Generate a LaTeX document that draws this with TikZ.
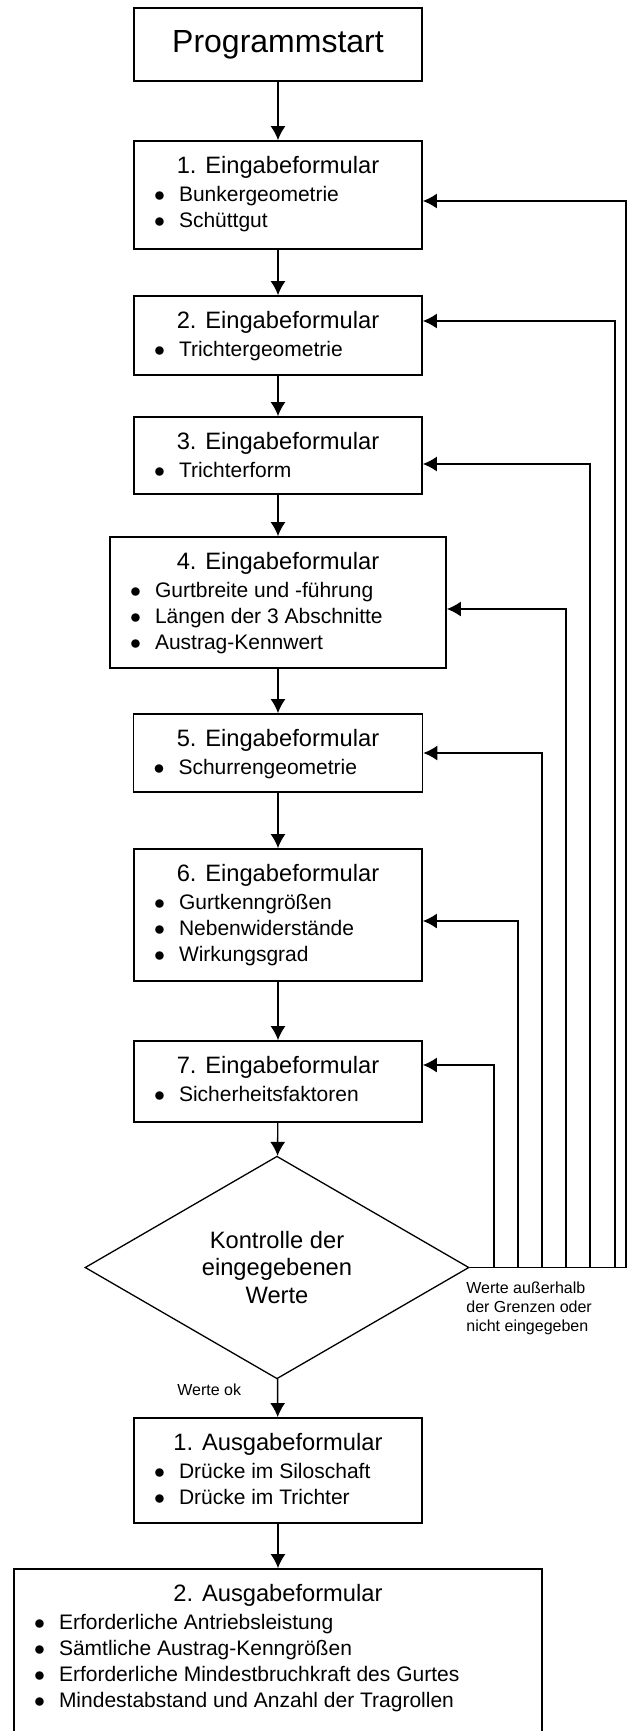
\documentclass[tikz,border=0pt]{standalone}
\usepackage{fontspec}
\setmainfont{Liberation Sans}
\usetikzlibrary{arrows.meta,shapes.geometric}

\newcommand{\formtext}[4]{%
  \parbox[c][#2][t]{#1}{%
    {\centering\fontsize{11.85}{13.75}\selectfont\rule{0pt}{16pt}#3\par}%
    \fontsize{10.5}{13}\selectfont\vspace{1pt}#4}}
\newcommand{\punkt}[1]{\par\hspace*{10pt}\makebox[12.5pt][l]{$\bullet$}#1}

\begin{document}
\begin{tikzpicture}[x=0.5pt,y=-0.5pt]
                    \tikzstyle{formular}=[rectangle,draw=black,line width=0.9pt,inner sep=0pt]
                    \tikzstyle{pfeil}=[-{Latex[length=7pt,width=7.5pt]},line width=0.7pt]
                    \tikzstyle{rueck}=[-{Latex[length=7pt,width=7.5pt]},line width=0.6pt]
                    \useasboundingbox (0,0) rectangle (627,1731);

                    \node (start) at (278,44.5) [formular,minimum width=144pt,minimum height=36.5pt,font=\fontsize{16}{19}\selectfont] {Programmstart};
                    \node (e1) at (278,195) [formular] {\formtext{144pt}{54pt}{1. Eingabeformular}{\punkt{Bunkergeometrie}\punkt{Schüttgut}}};
                    \node (e2) at (278,335.5) [formular] {\formtext{144pt}{39.5pt}{2. Eingabeformular}{\punkt{Trichtergeometrie}}};
                    \node (e3) at (278,455.5) [formular] {\formtext{144pt}{38.5pt}{3. Eingabeformular}{\punkt{Trichterform}}};
                    \node (e4) at (278,602.5) [formular] {\formtext{168pt}{65.5pt}{4. Eingabeformular}{\punkt{Gurtbreite und -führung}\punkt{Längen der 3 Abschnitte}\punkt{Austrag-Kennwert}}};
                    \node (e5) at (278,753) [formular] {\formtext{144.5pt}{39pt}{5. Eingabeformular}{\punkt{Schurrengeometrie}}};
                    \node (e6) at (278,915) [formular] {\formtext{144pt}{66pt}{6. Eingabeformular}{\punkt{Gurtkenngrößen}\punkt{Nebenwiderstände}\punkt{Wirkungsgrad}}};
                    \node (e7) at (278,1081.5) [formular] {\formtext{144pt}{40.5pt}{7. Eingabeformular}{\punkt{Sicherheitsfaktoren}}};
                    \node (kontrolle) at (277,1267.5) [diamond,draw=black,line width=0.65pt,inner sep=0pt,minimum width=192pt,minimum height=90.5pt,align=center,font=\fontsize{11.85}{13.75}\selectfont] {Kontrolle der\\eingegebenen\\Werte};
                    \node (a1) at (278,1470.5) [formular] {\formtext{144pt}{52.5pt}{1. Ausgabeformular}{\punkt{Drücke im Siloschaft}\punkt{Drücke im Trichter}}};
                    \node (a2) at (278,1657) [formular] {\formtext{264pt}{88pt}{2. Ausgabeformular}{\punkt{Erforderliche Antriebsleistung}\punkt{Sämtliche Austrag-Kenngrößen}\punkt{Erforderliche Mindestbruchkraft des Gurtes}\punkt{Mindestabstand und Anzahl der Tragrollen}}};

                    \node (aussen) at (466,1281) [anchor=north west,align=left,inner sep=0pt,font=\fontsize{8}{9.5}\selectfont] {Werte außerhalb\\der Grenzen oder\\nicht eingegeben};
                    \node (ok) at (177,1395) [anchor=base west,inner sep=0pt,font=\fontsize{8}{9.5}\selectfont] {Werte ok};

                    \coordinate (r1) at (626,201);
                    \coordinate (r2) at (615,321);
                    \coordinate (r3) at (590,464);
                    \coordinate (r4) at (566,609);
                    \coordinate (r5) at (542,753);
                    \coordinate (r6) at (518,921);
                    \coordinate (r7) at (494,1065);

                    \draw [pfeil] (start) -- (e1);
                    \draw [pfeil] (e1) -- (e2);
                    \draw [pfeil] (e2) -- (e3);
                    \draw [pfeil] (e3) -- (e4);
                    \draw [pfeil] (e4) -- (e5);
                    \draw [pfeil] (e5) -- (e6);
                    \draw [pfeil] (e6) -- (e7);
                    \draw [pfeil] (e7) -- (kontrolle);
                    \draw [pfeil] (kontrolle) -- (a1);
                    \draw [pfeil] (a1) -- (a2);

                    \draw [rueck] (kontrolle.east) -| (r1) -- (r1 -| e1.east);
                    \draw [rueck] (kontrolle.east) -| (r2) -- (r2 -| e2.east);
                    \draw [rueck] (kontrolle.east) -| (r3) -- (r3 -| e3.east);
                    \draw [rueck] (kontrolle.east) -| (r4) -- (r4 -| e4.east);
                    \draw [rueck] (kontrolle.east) -| (r5) -- (r5 -| e5.east);
                    \draw [rueck] (kontrolle.east) -| (r6) -- (r6 -| e6.east);
                    \draw [rueck] (kontrolle.east) -| (r7) -- (r7 -| e7.east);
                \end{tikzpicture}
\end{document}
